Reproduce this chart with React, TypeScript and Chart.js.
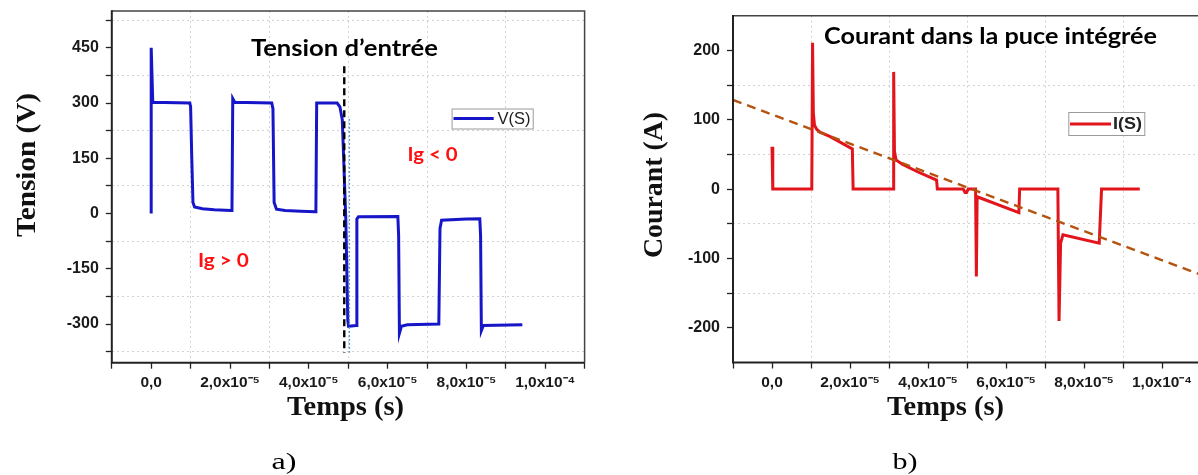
import React, { useEffect, useRef } from 'react';
import { Chart, registerables } from 'chart.js';

Chart.register(...registerables);

// ---------- Data: left panel, V(S) ----------
const V_TIME = [0, 0, 0.04e-5, 0.98e-5, 1.0e-5, 1.03e-5, 1.06e-5, 1.1e-5, 1.3e-5, 1.6e-5,
  2.03e-5, 2.05e-5, 2.07e-5, 2.12e-5, 3.06e-5, 3.09e-5, 3.12e-5, 3.18e-5, 3.4e-5, 3.8e-5,
  4.16e-5, 4.18e-5, 4.2e-5, 4.72e-5, 4.79e-5, 4.85e-5, 4.94e-5, 4.99e-5, 5.01e-5,
  5.2e-5, 5.22e-5, 5.26e-5, 6.26e-5, 6.28e-5, 6.3e-5, 6.35e-5, 6.5e-5, 7.3e-5, 7.33e-5,
  7.37e-5, 8.0e-5, 8.34e-5, 8.36e-5, 8.38e-5, 8.43e-5, 9.42e-5];
const V_VALUES = [0, 450, 302, 300, 290, 150, 30, 18, 13, 10,
  8, 10, 312, 302, 300, 285, 30, 12, 8, 6,
  5, 8, 300, 300, 290, 255, -18, -290, -306,
  -304, -15, -9, -8, -60, -325, -306, -302, -300, -40,
  -18, -15, -14, -60, -318, -304, -302];
const GATE_LINE_TIME = [4.9e-5, 4.9e-5];
const GATE_LINE_VALUES = [400, -378];
const SWITCH_LINE_TIME = [5.03e-5, 5.03e-5];
const SWITCH_LINE_VALUES = [257, -378];
const V_MAJOR_TICKS = [-300, -150, 0, 150, 300, 450];
const V_MINOR_TICKS = [-375, -225, -75, 75, 225, 375, 525];

// ---------- Data: right panel, I(S) ----------
const I_TIME = [0, 0.02e-5, 1.02e-5, 1.04e-5, 1.06e-5, 1.09e-5, 1.15e-5, 1.23e-5, 1.48e-5, 2.06e-5,
  2.08e-5, 3.11e-5, 3.12e-5, 3.14e-5, 3.18e-5, 3.34e-5, 3.73e-5, 4.22e-5, 4.24e-5, 4.9e-5,
  4.95e-5, 4.99e-5, 5.03e-5, 5.22e-5, 5.24e-5, 5.26e-5, 6.33e-5, 6.35e-5, 7.33e-5, 7.36e-5,
  7.4e-5, 7.46e-5, 8.39e-5, 8.45e-5, 9.43e-5];
const I_VALUES = [61, 0, 0, 211, 110, 92, 86, 82, 76, 58,
  0, 0, 169, 55, 42, 36, 25, 13, 0, 0,
  -5, -5, 0, 0, -126, -11, -34, 0, 0, -190,
  -78, -66, -78, 0, 0];
const TREND_TIME = [-1e-5, 1.1e-4];
const TREND_VALUES = [128.5, -123.5];
const I_MAJOR_TICKS = [-200, -100, 0, 100, 200];
const I_MINOR_TICKS = [-150, -50, 50, 150];

// ---------- Shared time axis ----------
const TIME_MAJOR_TICKS = [0, 2e-5, 4e-5, 6e-5, 8e-5, 1e-4];
const TIME_LABELS = ['0,0', '2,0x10\u207B\u2075', '4,0x10\u207B\u2075', '6,0x10\u207B\u2075', '8,0x10\u207B\u2075', '1,0x10\u207B\u2074'];
const TIME_MINOR_TICKS = [-1e-5, 1e-5, 3e-5, 5e-5, 7e-5, 9e-5, 1.1e-4];

const pts = (xs: number[], ys: number[]) => xs.map((x, i) => ({ x, y: ys[i] }));
const near = (a: number, b: number, eps: number) => Math.abs(a - b) < eps;

const BLUE = '#1616c8';
const RED = '#e2141c';
const BROWN = '#b5520e';
const GRID = '#d2d2d2';
const SANS = "'Liberation Sans', Arial, sans-serif";
const SERIF = "'Liberation Serif', 'Times New Roman', serif";
const CAL = "Lato, 'Open Sans', sans-serif";

type TextSpec = {
  text: string; x: number; y: number; font: string; color: string;
  width?: number; rotate?: boolean; align?: CanvasTextAlign; baseline?: CanvasTextBaseline;
};
type LegendSpec = { x1: number; y1: number; x2: number; y2: number; lx1: number; lx2: number; ly: number; color: string; text: TextSpec };

function drawText(ctx: CanvasRenderingContext2D, t: TextSpec, ox: number) {
  ctx.save();
  ctx.translate(t.x - ox, t.y);
  if (t.rotate) ctx.rotate(-Math.PI / 2);
  ctx.font = t.font;
  ctx.fillStyle = t.color;
  ctx.textAlign = t.align || 'center';
  ctx.textBaseline = t.baseline || 'alphabetic';
  if (t.width) {
    const w = ctx.measureText(t.text).width;
    ctx.scale(t.width / w, 1);
  }
  ctx.fillText(t.text, 0, 0);
  ctx.restore();
}

interface PanelSpec {
  offsetX: number; width: number; height: number;
  area: { left: number; top: number; right: number; bottom: number };
  datasets: any[];
  yMin: number; yMax: number; yMajor: number[]; yMinor: number[];
  texts: TextSpec[]; legend: LegendSpec;
}

function buildChart(canvas: HTMLCanvasElement, p: PanelSpec) {
  const xAxisH = 40;
  const tickFont = { family: SANS, size: 16, weight: 'bold' as const, lineHeight: 0.5 };
  const xTickFont = { family: SANS, size: 15.5, weight: 'bold' as const };
  const overlay = {
    id: 'overlay',
    afterDraw(chart: any) {
      const ctx = chart.ctx as CanvasRenderingContext2D;
      const a = chart.chartArea;
      ctx.save();
      ctx.strokeStyle = '#444';
      ctx.lineWidth = 1.5;
      ctx.beginPath();
      ctx.moveTo(a.left, a.top); ctx.lineTo(a.right, a.top); ctx.lineTo(a.right, a.bottom);
      ctx.stroke();
      ctx.strokeStyle = '#222';
      ctx.lineWidth = 2;
      ctx.beginPath();
      ctx.moveTo(a.left, a.top - 0.75); ctx.lineTo(a.left, a.bottom); ctx.lineTo(a.right, a.bottom);
      ctx.stroke();
      // legend
      const L = p.legend;
      ctx.fillStyle = '#fff';
      ctx.fillRect(L.x1 - p.offsetX, L.y1, L.x2 - L.x1, L.y2 - L.y1);
      ctx.strokeStyle = '#9a9a9a';
      ctx.lineWidth = 1;
      ctx.strokeRect(L.x1 - p.offsetX + 0.5, L.y1 + 0.5, L.x2 - L.x1, L.y2 - L.y1);
      ctx.strokeStyle = L.color;
      ctx.lineWidth = 3;
      ctx.beginPath();
      ctx.moveTo(L.lx1 - p.offsetX, L.ly); ctx.lineTo(L.lx2 - p.offsetX, L.ly);
      ctx.stroke();
      ctx.restore();
      drawText(ctx, L.text, p.offsetX);
      p.texts.forEach(t => drawText(ctx, t, p.offsetX));
    },
  };
  return new Chart(canvas, {
    type: 'line',
    data: { datasets: p.datasets },
    options: {
      responsive: false,
      animation: false,
      layout: {
        padding: {
          left: 0,
          top: p.area.top,
          right: p.width - (p.area.right - p.offsetX),
          bottom: p.height - p.area.bottom - xAxisH,
        },
      },
      plugins: { legend: { display: false }, tooltip: { enabled: false }, title: { display: false } },
      elements: { point: { radius: 0 }, line: { tension: 0 } },
      scales: {
        x: {
          type: 'linear',
          min: -1e-5,
          max: 1.1e-4,
          afterFit: (s: any) => { s.height = xAxisH; },
          afterBuildTicks: (s: any) => {
            s.ticks = [...TIME_MAJOR_TICKS, ...TIME_MINOR_TICKS].sort((a, b) => a - b).map(v => ({ value: v }));
          },
          ticks: {
            autoSkip: false,
            maxRotation: 0,
            minRotation: 0,
            padding: 5,
            color: '#1a1a1a',
            font: xTickFont,
            callback: (v: any) => {
              const i = TIME_MAJOR_TICKS.findIndex(m => near(m, Number(v), 1e-7));
              return i >= 0 ? TIME_LABELS[i] : '';
            },
          },
          grid: {
            color: (c: any) => (c.tick && !TIME_MAJOR_TICKS.some(m => near(m, c.tick.value, 1e-7)) ? GRID : 'rgba(0,0,0,0)'),
            tickColor: '#222',
            tickLength: 6,
            lineWidth: 1,
            tickWidth: 1.3,
          },
          border: { display: false, dash: [2, 3] },
        },
        y: {
          type: 'linear',
          min: p.yMin,
          max: p.yMax,
          afterFit: (s: any) => { s.width = p.area.left - p.offsetX; },
          afterBuildTicks: (s: any) => {
            s.ticks = [...p.yMajor, ...p.yMinor].sort((a, b) => a - b).map(v => ({ value: v }));
          },
          ticks: {
            autoSkip: false,
            padding: 7,
            color: '#1a1a1a',
            font: tickFont,
            callback: (v: any) => (p.yMajor.includes(Number(v)) ? String(v) : ''),
          },
          grid: {
            color: (c: any) => (c.tick && !p.yMajor.includes(c.tick.value) ? GRID : 'rgba(0,0,0,0)'),
            tickColor: '#222',
            tickLength: 6,
            lineWidth: 1,
            tickWidth: 1.3,
          },
          border: { display: false, dash: [2, 3] },
        },
      },
    } as any,
    plugins: [overlay],
  });
}

const LEFT: PanelSpec = {
  offsetX: 0, width: 600, height: 475,
  area: { left: 111.8, top: 10.7, right: 584.6, bottom: 362.7 },
  yMin: -405, yMax: 550, yMajor: V_MAJOR_TICKS, yMinor: V_MINOR_TICKS,
  datasets: [
    { label: 'V(S)', data: pts(V_TIME, V_VALUES), borderColor: BLUE, borderWidth: 3, order: 2 },
    { label: 'gate', data: pts(GATE_LINE_TIME, GATE_LINE_VALUES), borderColor: '#000', borderWidth: 2.4, borderDash: [7, 4], order: 1 },
    { label: 'switch', data: pts(SWITCH_LINE_TIME, SWITCH_LINE_VALUES), borderColor: '#5b9bd5', borderWidth: 1.4, borderDash: [2, 2], order: 0 },
  ],
  texts: [
    { text: 'Tension (V)', x: 28, y: 165, font: `bold 28px ${SERIF}`, color: '#111', width: 144, rotate: true, baseline: 'middle' },
    { text: 'Temps (s)', x: 345.6, y: 415, font: `bold 28px ${SERIF}`, color: '#111', width: 117 },
    { text: 'Tension d\u2019entr\u00e9e', x: 344.4, y: 56, font: `bold 23px ${CAL}`, color: '#000', width: 187 },
    { text: 'Ig < 0', x: 432.5, y: 160.5, font: `bold 19px ${CAL}`, color: '#ff1010', width: 50 },
    { text: 'Ig > 0', x: 223.4, y: 267, font: `bold 19px ${CAL}`, color: '#ff1010', width: 51 },
    { text: 'a)', x: 284, y: 469, font: `24px ${SERIF}`, color: '#000', width: 25 },
  ],
  legend: {
    x1: 451.6, y1: 108.5, x2: 532.7, y2: 128.5, lx1: 453.5, lx2: 493.7, ly: 118.5, color: BLUE,
    text: { text: 'V(S)', x: 497.5, y: 119, font: `17px ${SANS}`, color: '#222', width: 33, align: 'left', baseline: 'middle' },
  },
};

const RIGHT: PanelSpec = {
  offsetX: 600, width: 610, height: 475,
  area: { left: 733, top: 15.7, right: 1201, bottom: 362.5 },
  yMin: -250, yMax: 250, yMajor: I_MAJOR_TICKS, yMinor: I_MINOR_TICKS,
  datasets: [
    { label: 'I(S)', data: pts(I_TIME, I_VALUES), borderColor: RED, borderWidth: 3, order: 1 },
    { label: 'trend', data: pts(TREND_TIME, TREND_VALUES), borderColor: BROWN, borderWidth: 2.4, borderDash: [9, 6], order: 0 },
  ],
  texts: [
    { text: 'Courant (A)', x: 655, y: 185, font: `bold 28px ${SERIF}`, color: '#111', width: 146, rotate: true, baseline: 'middle' },
    { text: 'Temps (s)', x: 945.6, y: 415, font: `bold 28px ${SERIF}`, color: '#111', width: 117 },
    { text: 'Courant dans la puce int\u00e9gr\u00e9e', x: 990.5, y: 44, font: `bold 23px ${CAL}`, color: '#000', width: 333 },
    { text: 'b)', x: 905, y: 469, font: `24px ${SERIF}`, color: '#000', width: 25 },
  ],
  legend: {
    x1: 1068.3, y1: 112, x2: 1144.3, y2: 135, lx1: 1070, lx2: 1111, ly: 124, color: RED,
    text: { text: 'I(S)', x: 1113, y: 124.5, font: `bold 17px ${SANS}`, color: '#222', width: 29, align: 'left', baseline: 'middle' },
  },
};

function Panel({ spec }: { spec: PanelSpec }) {
  const ref = useRef<HTMLCanvasElement | null>(null);
  useEffect(() => {
    if (!ref.current) return;
    const chart = buildChart(ref.current, spec);
    return () => chart.destroy();
  }, [spec]);
  return (
    <canvas
      ref={ref}
      width={spec.width}
      height={spec.height}
      style={{ position: 'absolute', left: spec.offsetX, top: 0, width: spec.width, height: spec.height }}
    />
  );
}

export default function App() {
  return (
    <div style={{ position: 'fixed', left: 0, top: 0, width: 1198, height: 475, overflow: 'hidden', background: '#fff' }}>
      <Panel spec={LEFT} />
      <Panel spec={RIGHT} />
    </div>
  );
}
